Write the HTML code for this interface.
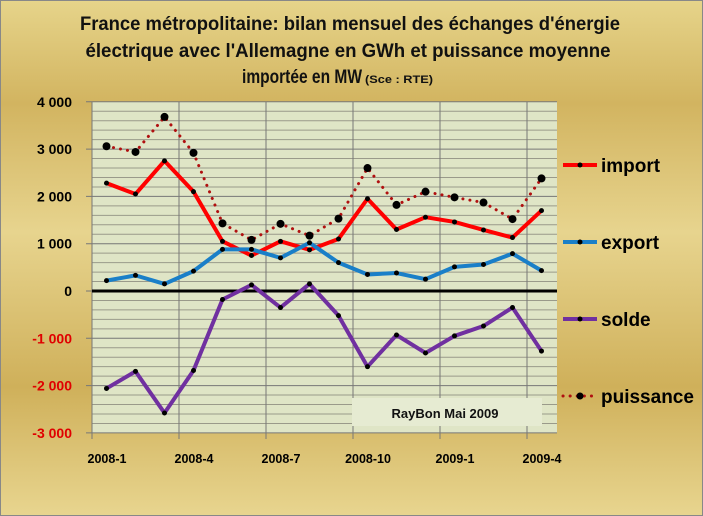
<!DOCTYPE html>
<html><head><meta charset="utf-8"><style>
html,body{margin:0;padding:0;background:#fff}
svg{display:block}
text{font-family:"Liberation Sans",sans-serif;font-weight:bold}
</style></head><body>
<svg id="s" width="703" height="516" xmlns="http://www.w3.org/2000/svg">
<defs>
<linearGradient id="bg" x1="0" y1="0" x2="0" y2="1">
<stop offset="0" stop-color="#e6d48a"/>
<stop offset="0.2" stop-color="#d2b460"/>
<stop offset="0.45" stop-color="#e7d48e"/>
<stop offset="0.75" stop-color="#cfb05a"/>
<stop offset="1" stop-color="#e8d58f"/>
</linearGradient>
</defs>
<rect x="0.5" y="0.5" width="702" height="515" fill="url(#bg)" stroke="#888"/>
<text x="350" y="30" font-size="19" font-weight="normal" style="font-weight:600" text-anchor="middle" textLength="540" lengthAdjust="spacingAndGlyphs" fill="#111">France métropolitaine:  bilan mensuel  des échanges d'énergie</text>
<text x="348" y="57" font-size="19" text-anchor="middle" textLength="525" lengthAdjust="spacingAndGlyphs" fill="#111">électrique avec l'Allemagne  en GWh  et puissance  moyenne</text>
<text x="302" y="83" font-size="19" text-anchor="middle" textLength="120" lengthAdjust="spacingAndGlyphs" fill="#111">importée en MW</text>
<text x="399" y="83" font-size="11" text-anchor="middle" textLength="68" lengthAdjust="spacingAndGlyphs" fill="#111">(Sce : RTE)</text>
<g id="g"></g>
</svg>
<script>
var g=document.getElementById('g'),h='';
var L=92,R=557,T=102,B=433,z=291,k=47.3;
function Y(v){return z-v/1000*k}
function X(i){return 106.5+29*i}
h+='<rect x="'+L+'" y="'+T+'" width="'+(R-L)+'" height="'+(B-T)+'" fill="#dfe5c6"/>';
for(var v=-3000;v<=4000;v+=200){var y=Y(v);var maj=v%1000==0;
h+='<line x1="'+(maj?L-6:L)+'" x2="'+R+'" y1="'+y+'" y2="'+y+'" stroke="'+(maj?'#777':'#9a9a8a')+'" stroke-width="1"/>';}
for(var i=0;i<6;i++){var x=L+87*i;h+='<line x1="'+x+'" x2="'+x+'" y1="'+T+'" y2="'+(B+6)+'" stroke="#777"/>';}
h+='<line x1="'+L+'" x2="'+R+'" y1="'+z+'" y2="'+z+'" stroke="#000" stroke-width="3"/>';
var lab=['4 000','3 000','2 000','1 000','0','-1 000','-2 000','-3 000'];
for(var j=0;j<8;j++){var v=4000-1000*j;h+='<text x="72" y="'+(Y(v)+5)+'" font-size="14" text-anchor="end" fill="'+(v<0?'#e00000':'#000')+'">'+lab[j]+'</text>';}
var xl=['2008-1','2008-4','2008-7','2008-10','2009-1','2009-4'];
for(var i=0;i<6;i++)h+='<text x="'+(L+15+87*i)+'" y="463" font-size="12.5" text-anchor="middle" fill="#000">'+xl[i]+'</text>';
h+='<rect x="352" y="398" width="190" height="28" fill="#e6ebd2"/><text x="445" y="418" font-size="13" text-anchor="middle" fill="#111">RayBon  Mai 2009</text>';
var imp=[2280,2050,2750,2100,1050,750,1050,870,1100,1950,1300,1560,1460,1290,1130,1700];
var exp=[220,330,150,420,880,880,700,1020,600,350,380,250,510,560,790,430];
var sol=[-2060,-1700,-2580,-1680,-180,130,-350,150,-520,-1600,-930,-1310,-950,-740,-350,-1270];
var pui=[3060,2940,3680,2920,1430,1080,1420,1170,1530,2600,1820,2100,1980,1870,1520,2380];
function pts(a){return a.map(function(v,i){return X(i)+','+Y(v)}).join(' ')}
function ser(a,c,r,dash){
 h+='<polyline points="'+pts(a)+'" fill="none" stroke="'+c+'" stroke-width="'+(dash?3:4)+'" stroke-linejoin="round" '+(dash?'stroke-dasharray="0.1 7" stroke-linecap="round"':'')+'/>';
 a.forEach(function(v,i){h+='<circle cx="'+X(i)+'" cy="'+Y(v)+'" r="'+r+'" fill="#000"/>';});
}
ser(pui,'#b01010',4,true);
ser(imp,'#ff0000',2.5);
ser(exp,'#1a7fc8',2.5);
ser(sol,'#7030a0',2.5);
function leg(y,c,t,dash){
 if(dash)h+='<line x1="563" x2="597" y1="'+y+'" y2="'+y+'" stroke="#b01010" stroke-width="3" stroke-dasharray="0.1 7" stroke-linecap="round"/><circle cx="580" cy="'+y+'" r="3.5" fill="#000"/>';
 else h+='<line x1="563" x2="597" y1="'+y+'" y2="'+y+'" stroke="'+c+'" stroke-width="4"/><circle cx="580" cy="'+y+'" r="2.5" fill="#000"/>';
 h+='<text x="601" y="'+(y+7)+'" font-size="19" fill="#000">'+t+'</text>';
}
leg(165,'#ff0000','import');leg(242,'#1a7fc8','export');leg(319,'#7030a0','solde');leg(396,'','puissance',true);
g.innerHTML=h;
</script>
</body></html>
